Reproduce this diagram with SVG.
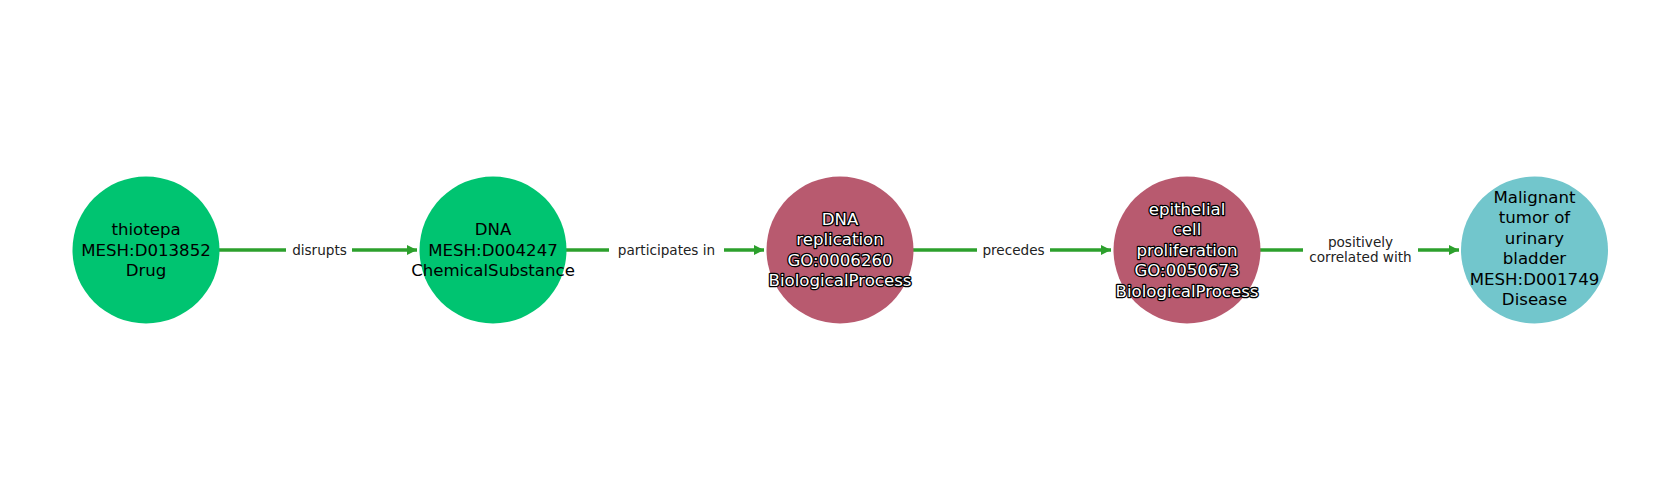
<svg xmlns="http://www.w3.org/2000/svg" width="1680" height="500" viewBox="0 0 1680 500">
<style>
.edge{stroke:#2ca02c;stroke-width:3.5;fill:none}
.lbl{font-family:"DejaVu Sans",sans-serif;font-size:13.6px;fill:#222;text-anchor:middle;dominant-baseline:central}
.nt{font-family:"DejaVu Sans",sans-serif;font-size:16.6px;fill:#000;text-anchor:middle;dominant-baseline:central}
.nw{font-family:"DejaVu Sans",sans-serif;font-size:16.6px;fill:#fff;stroke:#000;stroke-width:2.6;stroke-linejoin:round;paint-order:stroke;text-anchor:middle;dominant-baseline:central}
.bg{fill:#fff}
</style>
<defs>
<marker id="arr" markerUnits="userSpaceOnUse" markerWidth="12" markerHeight="12" refX="10" refY="5.5" orient="auto">
<path d="M0,0.5 L10,5.5 L0,10.5 Z" fill="#2ca02c"/>
</marker>
</defs>
<rect width="1680" height="500" fill="#fff"/>
<g id="connectors">
<line class="edge" x1="219" y1="250" x2="417" y2="250" marker-end="url(#arr)"/>
<rect class="bg" x="286" y="240" width="66" height="20"/>
<text class="lbl" x="319.5" y="250">disrupts</text>
<line class="edge" x1="566" y1="250" x2="764" y2="250" marker-end="url(#arr)"/>
<rect class="bg" x="609" y="240" width="115" height="20"/>
<text class="lbl" x="666.5" y="250">participates in</text>
<line class="edge" x1="913" y1="250" x2="1111" y2="250" marker-end="url(#arr)"/>
<rect class="bg" x="977" y="240" width="73" height="20"/>
<text class="lbl" x="1013.5" y="250">precedes</text>
<line class="edge" x1="1260" y1="250" x2="1459" y2="250" marker-end="url(#arr)"/>
<rect class="bg" x="1303" y="231" width="115" height="36"/>
<text class="lbl" x="1360.5" y="241.5">positively</text>
<text class="lbl" x="1360.5" y="257">correlated with</text>
</g>
<g id="n1">
<circle cx="146" cy="250" r="73.5" fill="#00c471"/>
<text class="nt" x="146" y="229.5">thiotepa</text>
<text class="nt" x="146" y="250">MESH:D013852</text>
<text class="nt" x="146" y="270.5">Drug</text>
</g>
<g id="n2">
<circle cx="493" cy="250" r="73.5" fill="#00c471"/>
<text class="nt" x="493" y="229.5">DNA</text>
<text class="nt" x="493" y="250">MESH:D004247</text>
<text class="nt" x="493" y="270.5">ChemicalSubstance</text>
</g>
<g id="n3">
<circle cx="840" cy="250" r="73.5" fill="#b85a6f"/>
<text class="nw" x="840" y="219">DNA</text>
<text class="nw" x="840" y="239.5">replication</text>
<text class="nw" x="840" y="260">GO:0006260</text>
<text class="nw" x="840" y="280.5">BiologicalProcess</text>
</g>
<g id="n4">
<circle cx="1187" cy="250" r="73.5" fill="#b85a6f"/>
<text class="nw" x="1187" y="209">epithelial</text>
<text class="nw" x="1187" y="229.5">cell</text>
<text class="nw" x="1187" y="250">proliferation</text>
<text class="nw" x="1187" y="270.5">GO:0050673</text>
<text class="nw" x="1187" y="291">BiologicalProcess</text>
</g>
<g id="n5">
<circle cx="1534.5" cy="250" r="73.5" fill="#72c6cc"/>
<text class="nt" x="1534.5" y="197">Malignant</text>
<text class="nt" x="1534.5" y="217.5">tumor of</text>
<text class="nt" x="1534.5" y="238">urinary</text>
<text class="nt" x="1534.5" y="258.5">bladder</text>
<text class="nt" x="1534.5" y="279">MESH:D001749</text>
<text class="nt" x="1534.5" y="299.5">Disease</text>
</g>
</svg>
